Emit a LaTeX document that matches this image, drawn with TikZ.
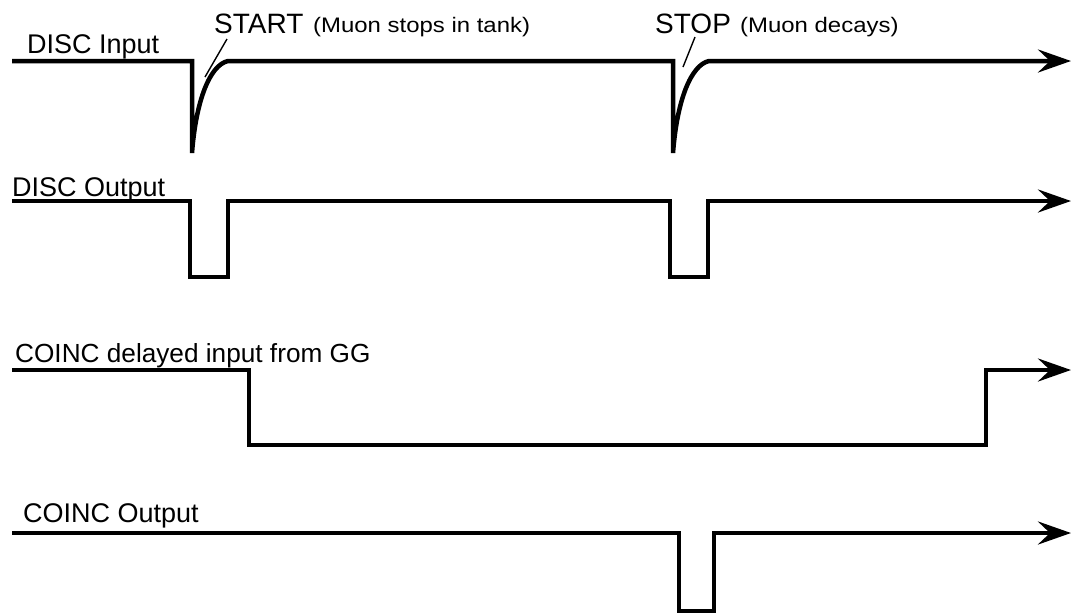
\documentclass[tikz,border=0pt]{standalone}
\usepackage{fontspec}
\setmainfont{Liberation Sans}
\newfontfamily\widefont{Liberation Sans}[FakeStretch=1.14]
\usetikzlibrary{arrows.meta}
\tikzset{
  wave/.style={line width=4.5pt, line join=miter, -{Stealth[length=33pt,width=23pt,inset=12pt]}},
  lbl/.style={anchor=base west, inner sep=0pt, font=\fontsize{27}{32}\selectfont},
  big/.style={anchor=base west, inner sep=0pt, font=\fontsize{28}{32}\selectfont},
  small/.style={anchor=base west, inner sep=0pt, font=\widefont\fontsize{21}{24}\selectfont},
  leader/.style={line width=1.4pt}
}
\begin{document}
\begin{tikzpicture}[x=1pt,y=-1pt]
\useasboundingbox (0,0) rectangle (1076,614);
% labels
\node[lbl] (l1) at (27,53) {DISC Input};
\node[lbl] (l2) at (12,196) {DISC Output};
\node[lbl, font=\fontsize{26.2}{32}\selectfont] (l3) at (15,362) {COINC delayed input from GG};
\node[lbl] (l4) at (23,522) {COINC Output};
\node[big] (start) at (214,33) {START};
\node[small] (startc) at (313,32) {(Muon stops in tank)};
\node[big] (stop) at (655,33) {STOP};
\node[small] (stopc) at (740,32) {(Muon decays)};
% leader coordinates
\coordinate (sa) at (227,39);
\coordinate (sb) at (205,77);
\coordinate (pa) at (695,37);
\coordinate (pb) at (683,67);
\draw[leader] (sa) -- (sb);
\draw[leader] (pa) -- (pb);
% waveforms
\draw[wave] (12,61) -- (192,61) -- (192,153) .. controls (196,100) and (210,65) .. (228,61)
  -- (673,61) -- (673,153) .. controls (677,100) and (691,65) .. (709,61) -- (1071,61);
\draw[wave] (12,201) -- (190,201) -- (190,277) -- (228,277) -- (228,201) -- (670,201)
  -- (670,277) -- (708,277) -- (708,201) -- (1071,201);
\draw[wave] (12,370) -- (249,370) -- (249,445) -- (986,445) -- (986,370) -- (1071,370);
\draw[wave] (12,533) -- (679,533) -- (679,611) -- (714,611) -- (714,533) -- (1071,533);
\end{tikzpicture}
\end{document}
